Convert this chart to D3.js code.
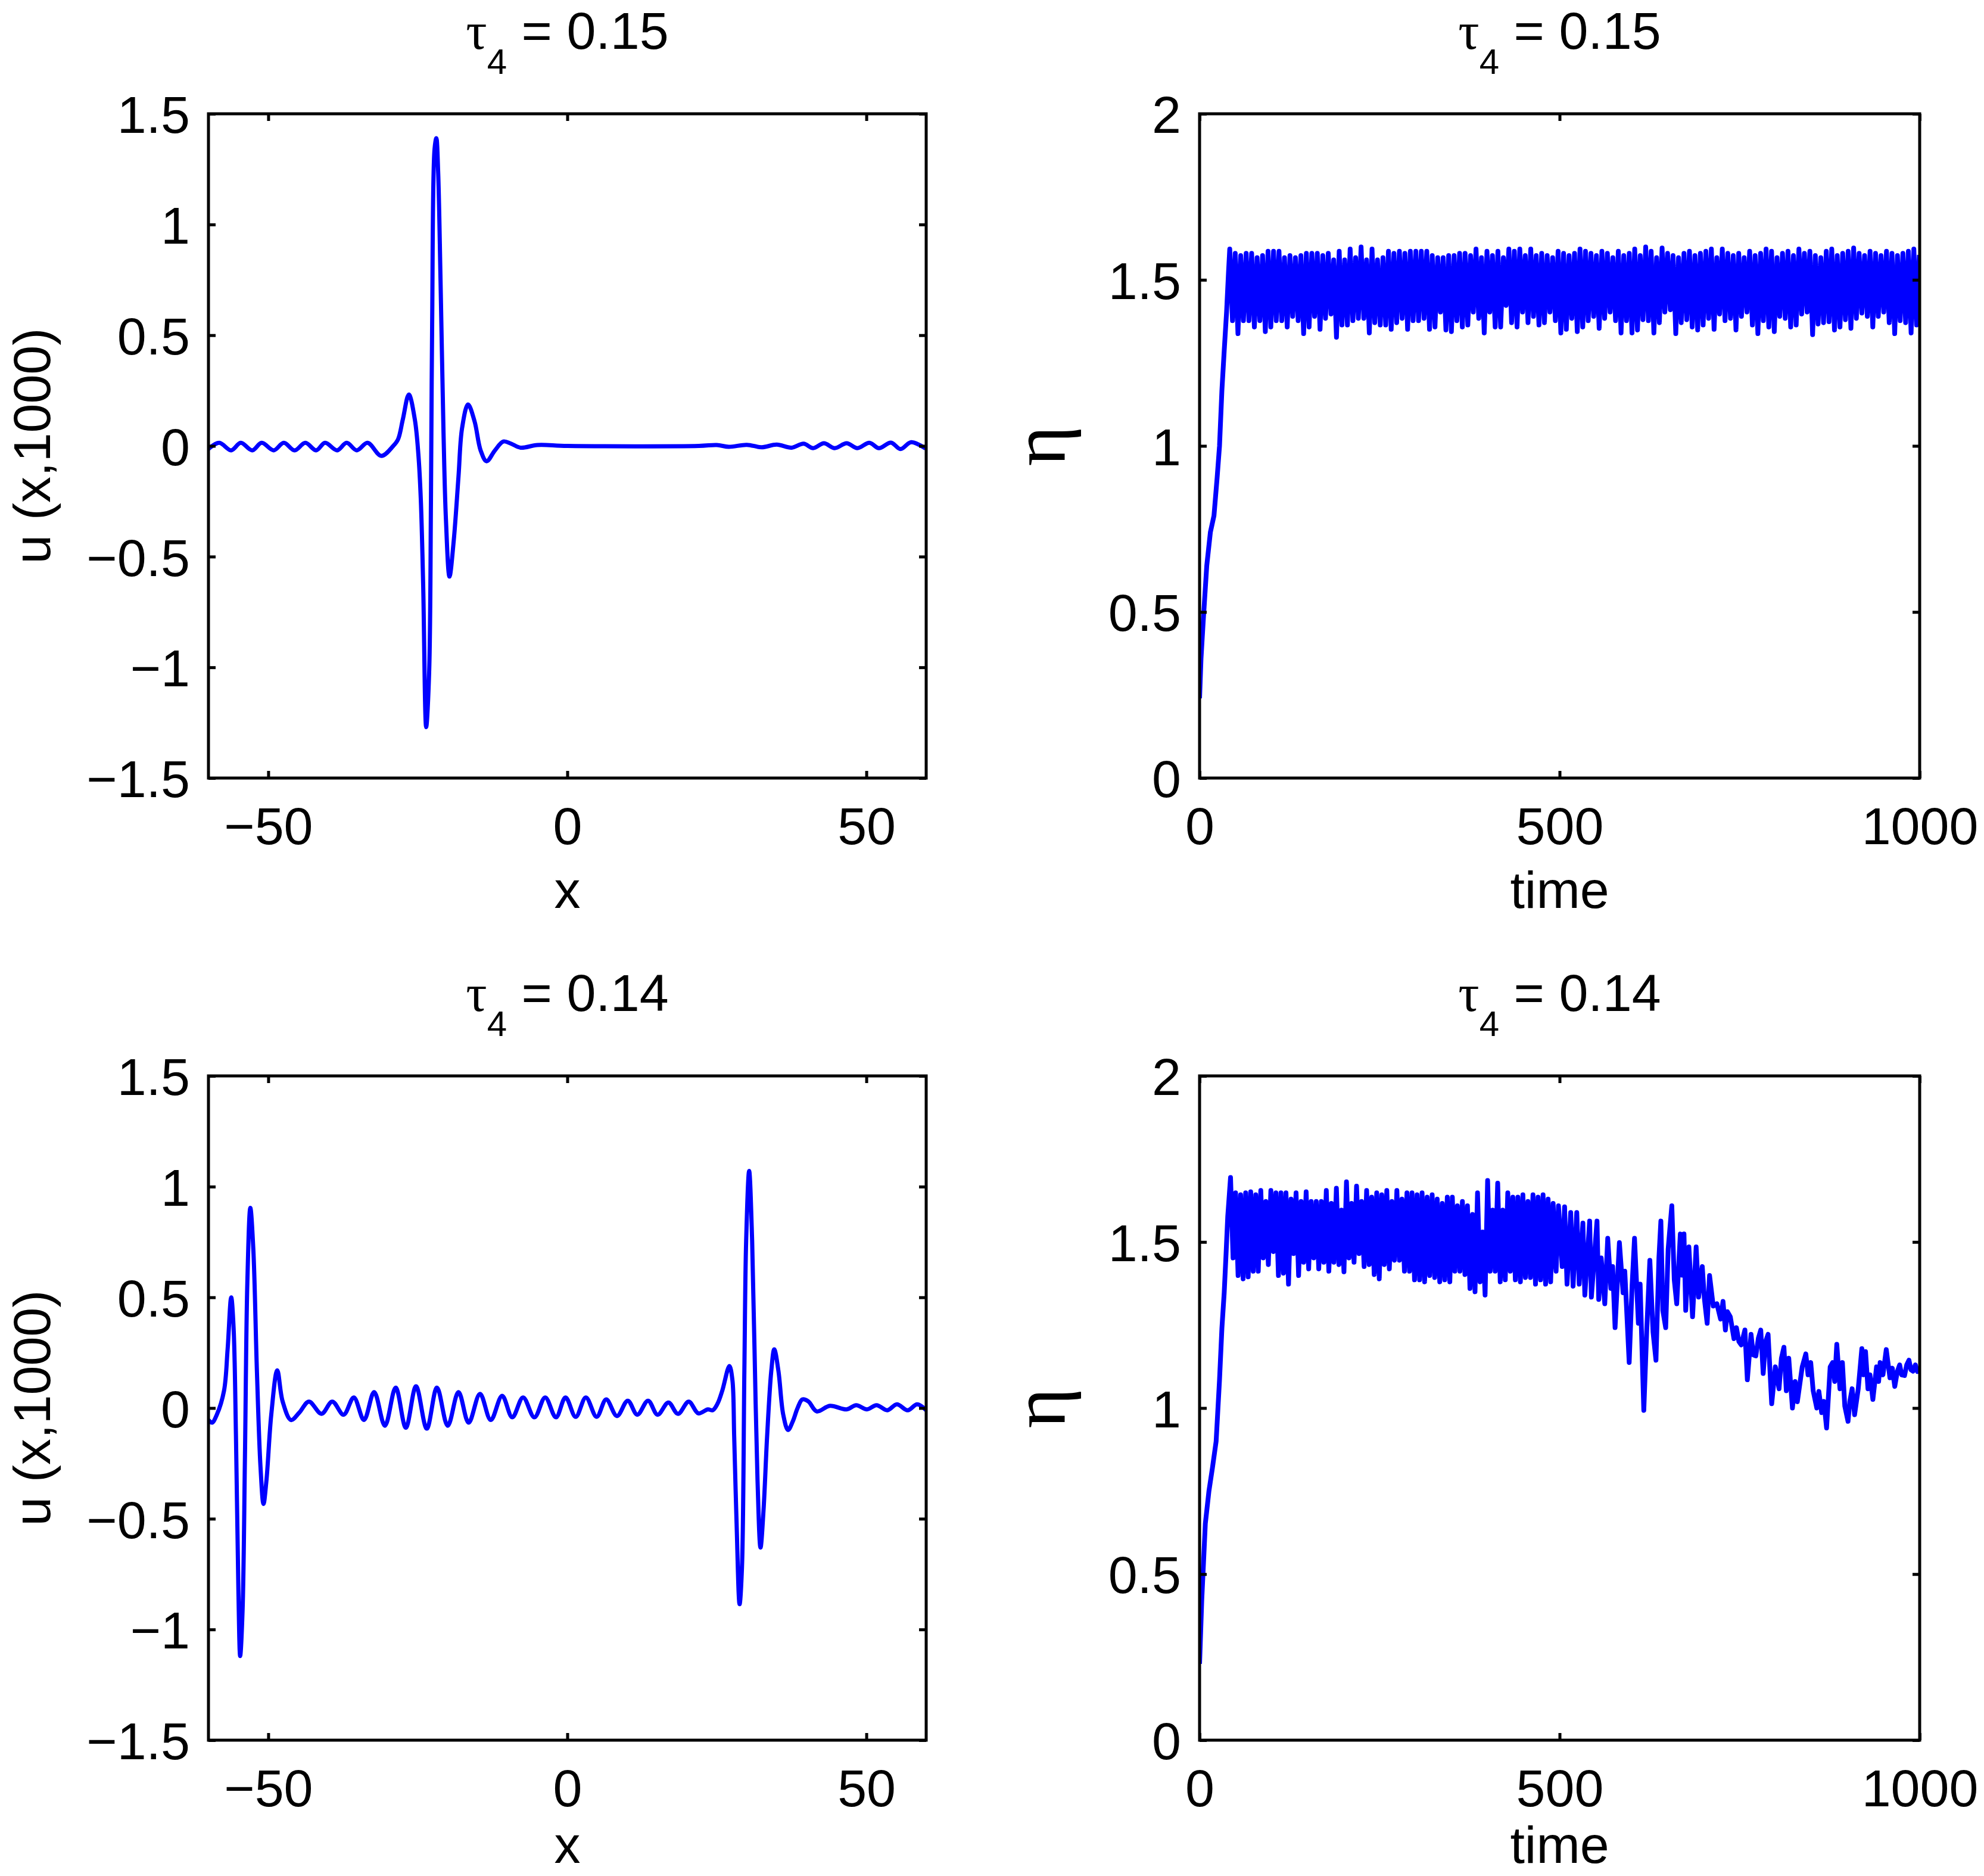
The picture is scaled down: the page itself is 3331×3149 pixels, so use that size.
<!DOCTYPE html>
<html>
<head>
<meta charset="utf-8">
<script src="https://cdn.jsdelivr.net/npm/d3@7"></script>
<style>
  html, body { margin: 0; padding: 0; background: #fff; }
  svg { display: block; }
</style>
</head>
<body>
<svg id="fig"></svg>
<script>
// ---- data ----
const uTicks = [-1.5, -1, -0.5, 0, 0.5, 1, 1.5];
const xTicks = [-50, 0, 50];
const etaTicks = [0, 0.5, 1, 1.5, 2];
const timeTicks = [0, 500, 1000];
const tauValues = ["0.15", "0.14"];

// u(x,1000), tau4 = 0.15  [x, u]
const u15 = [[-60,-0.014],[-58.2,0.014],[-56.2,-0.02],[-54.6,0.014],[-52.7,-0.02],[-51.1,0.014],[-49.1,-0.02],
  [-47.4,0.014],[-45.6,-0.02],[-43.8,0.014],[-42,-0.02],[-40.5,0.014],[-38.5,-0.02],[-36.9,0.014],[-35.2,-0.02],
  [-33.4,0.014],[-31.1,-0.045],[-29.1,0],[-28.3,0.03],[-27.5,0.12],[-26.5,0.232],[-25.5,0.12],[-24.9,-0.04],
  [-24.5,-0.24],[-24.1,-0.63],[-23.6,-1.27],[-23.1,-1.02],[-22.8,-0.24],[-22.6,0.55],[-22.2,1.34],[-21.9,1.39],
  [-21.6,1.24],[-21.2,0.75],[-20.7,0.06],[-20.3,-0.33],[-19.7,-0.59],[-19.0,-0.43],[-18.2,-0.14],[-17.6,0.08],
  [-16.6,0.187],[-15.5,0.11],[-14.5,-0.02],[-13.5,-0.069],[-12.1,-0.02],[-10.7,0.02],[-9.4,0.01],[-7.8,-0.008],
  [-5,0.004],[0,0],[22,0],[25,0.004],[27,-0.004],[30,0.005],[32.5,-0.006],[35,0.006],[37.5,-0.008],[39.5,0.01],
  [41.1,-0.01],[42.9,0.012],[44.7,-0.01],[46.7,0.012],[48.5,-0.01],[50.5,0.014],[52.1,-0.01],[54.1,0.015],
  [55.7,-0.014],[57.5,0.017],[59.9,-0.012]];

// u(x,1000), tau4 = 0.14  [x, u]
const u14 = [[-60,-0.054],[-59.4,-0.066],[-58.6,-0.03],[-57.4,0.078],[-56.8,0.265],[-56.2,0.5],[-55.8,0.363],
  [-55.4,-0.13],[-55.0,-0.817],[-54.7,-1.12],[-54.3,-0.915],[-53.9,-0.22],[-53.5,0.566],[-53.0,0.904],[-52.5,0.717],
  [-51.9,0.167],[-51.3,-0.266],[-50.8,-0.433],[-50.3,-0.325],[-49.5,-0.03],[-48.5,0.17],[-47.6,0.03],[-46.2,-0.054],
  [-44.8,-0.02],[-43.2,0.029],[-41.1,-0.026],[-39.3,0.029],[-37.4,-0.03],[-35.7,0.048],[-34.0,-0.054],[-32.3,0.072],
  [-30.5,-0.08],[-28.7,0.092],[-27.0,-0.089],[-25.3,0.098],[-23.5,-0.093],[-21.8,0.092],[-20.0,-0.08],[-18.2,0.072],
  [-16.5,-0.066],[-14.6,0.064],[-12.8,-0.054],[-10.9,0.055],[-9.2,-0.042],[-7.4,0.048],[-5.5,-0.042],[-3.7,0.048],
  [-1.9,-0.042],[-0.3,0.048],[1.4,-0.04],[3.1,0.048],[4.9,-0.04],[6.5,0.039],[8.3,-0.036],[10.1,0.033],[11.7,-0.03],
  [13.5,0.033],[15.1,-0.03],[16.9,0.025],[18.5,-0.026],[20.3,0.029],[21.9,-0.024],[23.5,-0.006],[24.3,-0.01],
  [25.1,0.019],[25.9,0.078],[27.1,0.19],[27.6,0.127],[27.9,-0.13],[28.3,-0.52],[28.8,-0.886],[29.2,-0.72],
  [29.6,0.167],[29.9,0.756],[30.4,1.071],[30.9,0.756],[31.3,0.265],[31.8,-0.325],[32.3,-0.63],[32.8,-0.463],
  [33.4,-0.13],[34.1,0.167],[34.6,0.265],[35.3,0.167],[36.1,-0.03],[36.9,-0.099],[37.7,-0.06],[38.5,0],[39.3,0.039],
  [40.3,0.03],[41.7,-0.015],[43.9,0.01],[46.7,-0.006],[48.3,0.013],[50.1,-0.006],[51.7,0.013],[53.5,-0.01],
  [55.1,0.017],[56.9,-0.01],[58.5,0.017],[60,-0.01]];

// eta(t), tau4 = 0.15 : initial rise [t, eta], then one peak / one trough per oscillation
const eta15Rise = [[0,0.24],[2,0.36],[5,0.47],[10,0.64],[15,0.74],[20,0.79],[24.4,0.905],[27.7,1.0],[31,1.167],
  [34.2,1.286],[37.5,1.403],[40.1,1.52]];
const eta15Start = 41.9, eta15Period = 7.6;
const eta15Peaks = [1.593,1.580,1.573,1.580,1.580,1.567,1.573,1.586,1.586,1.586,
  1.567,1.573,1.567,1.573,1.580,1.580,1.580,1.573,1.580,1.560,
  1.586,1.560,1.593,1.567,1.599,1.560,1.593,1.560,1.567,1.586,
  1.580,1.586,1.580,1.586,1.586,1.586,1.586,1.573,1.567,1.567,
  1.573,1.573,1.580,1.580,1.573,1.593,1.567,1.586,1.573,1.586,
  1.567,1.593,1.586,1.593,1.573,1.593,1.573,1.580,1.573,1.567,
  1.586,1.580,1.573,1.580,1.593,1.586,1.580,1.573,1.586,1.580,
  1.567,1.586,1.573,1.580,1.593,1.573,1.599,1.586,1.567,1.596,
  1.580,1.573,1.567,1.580,1.586,1.573,1.580,1.586,1.593,1.567,
  1.593,1.580,1.573,1.580,1.567,1.586,1.573,1.580,1.593,1.586,
  1.567,1.580,1.586,1.573,1.593,1.580,1.586,1.573,1.567,1.586,
  1.593,1.573,1.580,1.586,1.596,1.580,1.573,1.586,1.580,1.573,
  1.586,1.580,1.573,1.580,1.586,1.593];
const eta15Troughs = [1.377,1.338,1.377,1.377,1.358,1.377,1.344,1.358,1.377,1.377,
  1.358,1.390,1.377,1.338,1.358,1.390,1.351,1.384,1.397,1.327,
  1.364,1.364,1.377,1.384,1.384,1.340,1.371,1.364,1.364,1.351,
  1.371,1.384,1.351,1.377,1.377,1.384,1.351,1.358,1.403,1.349,
  1.344,1.377,1.358,1.364,1.403,1.384,1.340,1.403,1.358,1.358,
  1.423,1.371,1.358,1.403,1.371,1.390,1.364,1.371,1.403,1.377,
  1.340,1.351,1.384,1.344,1.358,1.377,1.390,1.354,1.384,1.403,
  1.377,1.340,1.377,1.340,1.349,1.380,1.377,1.340,1.371,1.403,
  1.410,1.338,1.371,1.380,1.358,1.349,1.364,1.384,1.351,1.397,
  1.377,1.384,1.349,1.390,1.403,1.364,1.338,1.377,1.358,1.344,
  1.390,1.384,1.358,1.364,1.397,1.403,1.335,1.367,1.371,1.374,
  1.349,1.358,1.380,1.354,1.384,1.400,1.390,1.358,1.390,1.403,
  1.371,1.338,1.377,1.371,1.340,1.364];
const eta15Tail = [[999.5,1.575]];

// eta(t), tau4 = 0.14
const eta14Rise = [[0,0.23],[3,0.42],[8,0.652],[13,0.75],[18,0.822],[23,0.90],[27.7,1.085],[31,1.24],
  [34.2,1.347],[36.8,1.465],[39.1,1.576]];
const eta14Start = 43, eta14Period = 7.0;
const eta14Peaks = [1.694,1.648,1.642,1.648,1.651,1.642,1.655,1.622,1.655,1.648,
  1.648,1.648,1.629,1.648,1.622,1.651,1.622,1.622,1.622,1.655,
  1.616,1.662,1.596,1.681,1.616,1.668,1.622,1.655,1.635,1.648,
  1.642,1.655,1.622,1.655,1.629,1.648,1.648,1.642,1.648,1.635,
  1.642,1.629,1.616,1.635,1.635,1.609,1.622,1.609,1.583,1.648,
  1.530,1.685,1.596,1.677,1.596,1.648,1.635,1.635,1.642,1.622,
  1.642,1.635,1.642,1.629,1.616,1.609];
const eta14Troughs = [1.452,1.399,1.389,1.395,1.412,1.412,1.452,1.432,1.471,1.399,
  1.406,1.373,1.465,1.399,1.439,1.419,1.452,1.419,1.439,1.412,
  1.439,1.432,1.410,1.452,1.439,1.465,1.426,1.432,1.402,1.389,
  1.432,1.419,1.445,1.445,1.412,1.412,1.386,1.386,1.380,1.399,
  1.393,1.380,1.386,1.380,1.412,1.412,1.402,1.360,1.350,1.380,
  1.340,1.412,1.412,1.380,1.386,1.412,1.386,1.380,1.393,1.393,
  1.373,1.386,1.373,1.380,1.426];
const eta14Tail = [[495.1,1.412],[498.4,1.609],[503.5,1.426],[506.9,1.606],[510.3,1.373],[515.4,1.589],
  [518.7,1.367],[523.8,1.589],[527.2,1.373],[532.3,1.557],[535,1.340],[541.7,1.563],[544.1,1.334],[551.9,1.563],
  [554.3,1.327],[557.7,1.452],[562.7,1.314],[566.8,1.511],[571.2,1.360],[573.6,1.426],[577,1.242],[583,1.498],
  [588.1,1.347],[590.5,1.412],[596.6,1.137],[600.6,1.367],[604,1.511],[609.4,1.255],[611.8,1.373],[616.9,0.993],
  [621,1.235],[625.3,1.445],[629.7,1.229],[633.8,1.144],[637.9,1.452],[640.6,1.563],[643.3,1.294],[647.3,1.242],
  [650.7,1.478],[655.8,1.609],[659.2,1.386],[662.6,1.314],[667.6,1.524],[670,1.40],[672.7,1.524],[675.1,1.294],
  [679.5,1.485],[684.6,1.275],[689.6,1.485],[693,1.334],[698.1,1.426],[701,1.33],[704.9,1.255],[708.2,1.399],
  [713.3,1.307],[718.4,1.314],[723.5,1.268],[726.9,1.321],[730.2,1.235],[733,1.29],[737,1.275],[742.1,1.209],
  [745.5,1.242],[749,1.20],[752.2,1.190],[757.3,1.235],[760.7,1.085],[765.8,1.222],[769,1.16],[772.5,1.157],
  [776,1.21],[779.3,1.235],[782.7,1.104],[786,1.20],[789.5,1.222],[794.5,1.013],[799.6,1.124],[804.7,1.058],
  [808,1.15],[811.5,1.183],[814.8,1.052],[818.2,1.150],[823.3,1.0],[827,1.08],[830.1,1.019],[836.9,1.124],
  [841.9,1.163],[845,1.10],[848.7,1.137],[852.1,1.052],[857.1,1.0],[860,1.05],[863.9,0.986],[867,1.02],
  [870.7,0.940],[875.7,1.124],[879.1,1.137],[882,1.08],[884.9,1.192],[889.3,1.058],[892.7,1.137],[896,1.006],
  [900.5,0.960],[903,1.02],[906.2,1.058],[909.6,0.980],[914.7,1.058],[919.7,1.179],[922,1.10],[924.8,1.170],
  [928.2,1.058],[931,1.10],[935,1.026],[940.1,1.124],[943,1.08],[945.1,1.137],[949,1.10],[953.6,1.176],
  [958.7,1.091],[962,1.12],[965.4,1.065],[969,1.11],[972.2,1.130],[975,1.10],[979,1.098],[982,1.13],
  [985.1,1.144],[988,1.115],[990.8,1.111],[994,1.13],[997,1.11],[1000,1.118]];

// ---- build series ----
function bandSeries(rise, start, period, peaks, troughs, tail) {
  const pts = rise.slice();
  const n = Math.min(peaks.length, troughs.length);
  for (let k = 0; k < n; k++) {
    pts.push([start + k * period, peaks[k]]);
    pts.push([start + k * period + period / 2, troughs[k]]);
  }
  return pts.concat(tail);
}
const eta15 = bandSeries(eta15Rise, eta15Start, eta15Period, eta15Peaks, eta15Troughs, eta15Tail);
const eta14 = bandSeries(eta14Rise, eta14Start, eta14Period, eta14Peaks, eta14Troughs, eta14Tail);

// ---- layout ----
const W = 3331, H = 3149;
const FONT = "'Liberation Sans', Arial, Helvetica, sans-serif";
const SERIF = "'Liberation Serif', 'DejaVu Serif', serif";
const rowShift = 1615;
const colL = [350, 1555], colR = [2014, 3223];
const rowTop = [191, 1306];
const xLabelY = [1524, 3127];

const panels = [
  { cols: colL, row: 0, xd: [-60, 60], yd: [-1.5, 1.5], xt: xTicks, yt: uTicks, data: u15, tau: tauValues[0], xl: "x", yl: "u (x,1000)", smooth: true },
  { cols: colR, row: 0, xd: [0, 1000], yd: [0, 2], xt: timeTicks, yt: etaTicks, data: eta15, tau: tauValues[0], xl: "time", yl: "η", smooth: false },
  { cols: colL, row: 1, xd: [-60, 60], yd: [-1.5, 1.5], xt: xTicks, yt: uTicks, data: u14, tau: tauValues[1], xl: "x", yl: "u (x,1000)", smooth: true },
  { cols: colR, row: 1, xd: [0, 1000], yd: [0, 2], xt: timeTicks, yt: etaTicks, data: eta14, tau: tauValues[1], xl: "time", yl: "η", smooth: false }
];

const svg = d3.select("#fig").attr("width", W).attr("height", H).attr("viewBox", `0 0 ${W} ${H}`);
svg.append("rect").attr("width", W).attr("height", H).attr("fill", "#fff");
const fmt = d3.format("");

panels.forEach((p, i) => {
  const x0 = p.cols[0], x1 = p.cols[1];
  const y0 = rowTop[0] + p.row * rowShift, y1 = rowTop[1] + p.row * rowShift;
  const x = d3.scaleLinear().domain(p.xd).range([x0, x1]);
  const y = d3.scaleLinear().domain(p.yd).range([y1, y0]);
  const g = svg.append("g");

  g.append("clipPath").attr("id", "clip" + i)
    .append("rect").attr("x", x0).attr("y", y0).attr("width", x1 - x0).attr("height", y1 - y0);

  const line = d3.line().x(d => x(d[0])).y(d => y(d[1]))
    .curve(p.smooth ? d3.curveCatmullRom.alpha(0.5) : d3.curveLinear);
  g.append("path").datum(p.data)
    .attr("clip-path", `url(#clip${i})`)
    .attr("fill", "none").attr("stroke", "#0000ff").attr("stroke-width", p.smooth ? 7 : 8)
    .attr("stroke-linejoin", "round").attr("d", line);

  const styleAxis = (a) => {
    a.attr("font-family", FONT).attr("font-size", 88);
    a.select(".domain").remove();
    a.selectAll("line").attr("stroke", "#000").attr("stroke-width", 5);
    a.selectAll("text").attr("fill", "#000");
  };

  g.append("g").attr("transform", `translate(0,${y1})`)
    .call(d3.axisBottom(x).tickValues(p.xt).tickFormat(fmt).tickSizeInner(-12).tickSizeOuter(0))
    .call(styleAxis)
    .call(a => a.selectAll("text").attr("y", 111).attr("dy", null));
  g.append("g").attr("transform", `translate(0,${y0})`)
    .call(d3.axisTop(x).tickValues(p.xt).tickFormat(() => "").tickSizeInner(-12).tickSizeOuter(0))
    .call(styleAxis);
  g.append("g").attr("transform", `translate(${x0},0)`)
    .call(d3.axisLeft(y).tickValues(p.yt).tickFormat(fmt).tickSizeInner(-12).tickSizeOuter(0).tickPadding(31))
    .call(styleAxis)
    .call(a => a.selectAll("text").attr("dy", "0.36em"));
  g.append("g").attr("transform", `translate(${x1},0)`)
    .call(d3.axisRight(y).tickValues(p.yt).tickFormat(() => "").tickSizeInner(-12).tickSizeOuter(0))
    .call(styleAxis);

  g.append("rect").attr("x", x0).attr("y", y0).attr("width", x1 - x0).attr("height", y1 - y0)
    .attr("fill", "none").attr("stroke", "#000").attr("stroke-width", 5);

  const cx = (x0 + x1) / 2, cy = (y0 + y1) / 2;

  // title: tau_4 = value
  const t = g.append("text").attr("x", cx).attr("y", 82 + p.row * rowShift)
    .attr("text-anchor", "middle").attr("font-family", FONT).attr("font-size", 88).attr("fill", "#000");
  t.append("tspan").attr("font-family", SERIF).text("τ");
  t.append("tspan").attr("font-size", 60).attr("dy", 42).text("4");
  t.append("tspan").attr("dy", -42).text(" = " + p.tau);

  // x label
  g.append("text").attr("x", cx).attr("y", xLabelY[p.row])
    .attr("text-anchor", "middle").attr("font-family", FONT).attr("font-size", 88).attr("fill", "#000")
    .text(p.xl);

  // y label
  if (p.yl === "η") {
    g.append("text").attr("transform", `translate(1787,${cy}) rotate(-90)`)
      .attr("text-anchor", "middle").attr("font-family", SERIF)
      .attr("font-size", 130).attr("fill", "#000").text(p.yl);
  } else {
    g.append("text").attr("transform", `translate(84,${cy}) rotate(-90)`)
      .attr("text-anchor", "middle").attr("font-family", FONT).attr("font-size", 88).attr("fill", "#000")
      .text(p.yl);
  }
});
</script>
</body>
</html>
